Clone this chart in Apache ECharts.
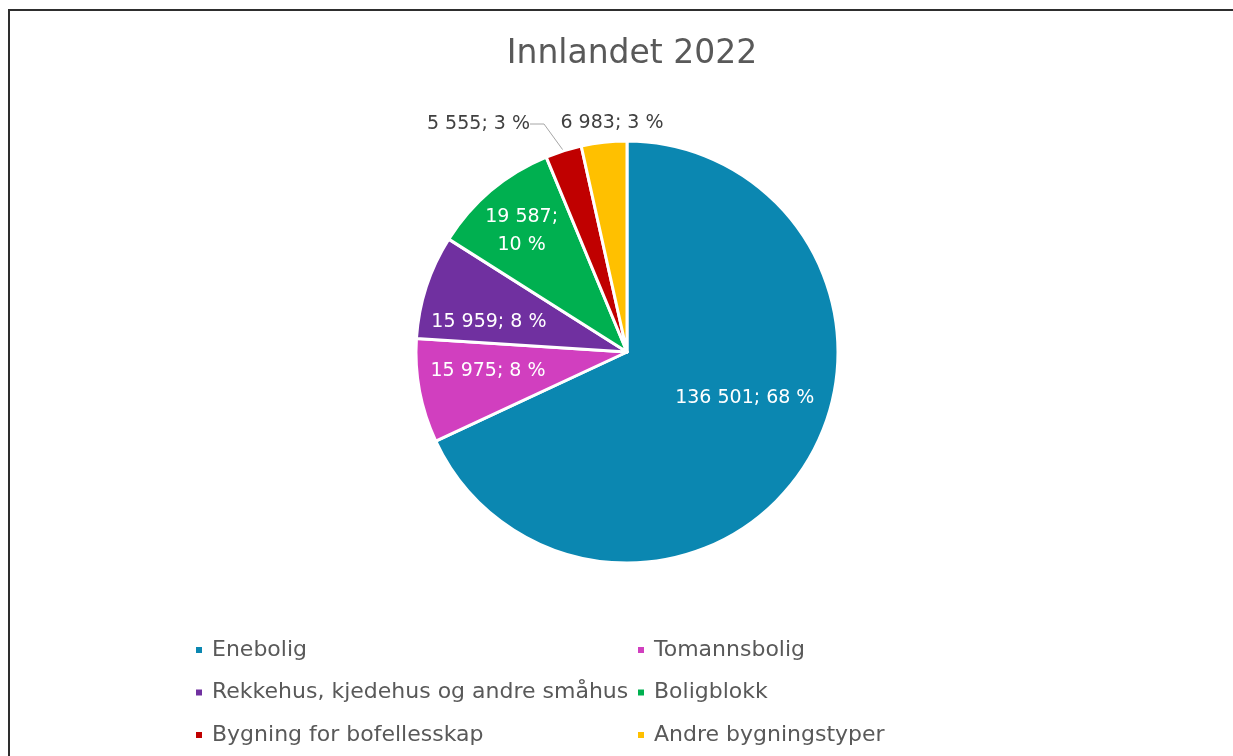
<!DOCTYPE html>
<html>
<head>
<meta charset="utf-8">
<script src="https://cdn.jsdelivr.net/npm/echarts@6/dist/echarts.min.js"></script>
<style>
  html, body { margin: 0; padding: 0; background: #fff; overflow: hidden; }
  #main { width: 1233px; height: 756px; }
  #frame {
    position: absolute; left: 8px; top: 9px; right: -10px; bottom: -10px;
    border-left: 2px solid #2e2e2e; border-top: 2px solid #2e2e2e;
    pointer-events: none;
  }
</style>
</head>
<body>
<div id="main"></div>
<div id="frame"></div>
<script>
var titleText = 'Innlandet 2022';
var categories = ['Enebolig', 'Tomannsbolig', 'Rekkehus, kjedehus og andre småhus', 'Boligblokk', 'Bygning for bofellesskap', 'Andre bygningstyper'];
var values = [136501, 15975, 15959, 19587, 5555, 6983];
var colors = ['#0b87b1', '#d13fbf', '#7030a0', '#00b050', '#c00000', '#ffc000'];

var FONT = 'DejaVu Sans';
var CX = 627, CY = 352, R = 211;

// where the inside labels sit: share of radius and turn (deg) from slice middle
var labelRadius = [0.60, 0.665, 0.67, 0.76];
var labelTurn = [-11, 2.8, -5.7, -1];

function fmtNum(n) {
  return String(n).replace(/\B(?=(\d{3})+(?!\d))/g, ' ');
}

var total = values.reduce(function (a, b) { return a + b; }, 0);

// middle angle of every slice, clockwise from 12 o'clock
var midAngles = [];
var acc = 0;
values.forEach(function (v) {
  midAngles.push((acc + v / 2) / total * 360);
  acc += v;
});

var pieData = categories.map(function (name, i) {
  var item = { name: name, value: values[i] };
  if (values[i] / total < 0.05) {
    item.label = { position: 'outside', color: '#404040' };
  }
  return item;
});
pieData[5].labelLine = { show: false };

var chart = echarts.init(document.getElementById('main'));

var legendText = { fontFamily: FONT, fontSize: 22, color: '#595959', lineHeight: 26, padding: [0, 0, 0, 4] };

var option = {
  backgroundColor: '#fff',
  color: colors,
  title: {
    text: titleText,
    left: CX,
    textAlign: 'center',
    top: 33,
    textStyle: { fontFamily: FONT, fontSize: 33, fontWeight: 'normal', color: '#595959' }
  },
  legend: [{
    data: [categories[0], categories[2], categories[4]],
    orient: 'vertical',
    left: 189,
    top: 632,
    itemWidth: 8,
    itemHeight: 8,
    itemGap: 16.5,
    icon: 'rect',
    textStyle: legendText
  }, {
    data: [categories[1], categories[3], categories[5]],
    orient: 'vertical',
    left: 631,
    top: 632,
    itemWidth: 8,
    itemHeight: 8,
    itemGap: 16.5,
    icon: 'rect',
    textStyle: legendText
  }],
  series: [{
    type: 'pie',
    center: [CX, CY],
    radius: [0, R],
    startAngle: 90,
    clockwise: true,
    avoidLabelOverlap: false,
    itemStyle: { borderColor: '#fff', borderWidth: 3 },
    label: {
      show: true,
      position: 'inside',
      color: '#fff',
      fontFamily: FONT,
      fontSize: 19,
      lineHeight: 28,
      formatter: function (p) {
        var pct = Math.round(p.value / total * 100);
        if (p.dataIndex === 3) {
          return fmtNum(p.value) + ';\n' + pct + ' %';
        }
        return fmtNum(p.value) + '; ' + pct + ' %';
      }
    },
    labelLine: { show: true, length: 8, length2: 14, lineStyle: { color: '#a6a6a6', width: 1 } },
    labelLayout: function (p) {
      var i = p.dataIndex;
      if (i < 4) {
        var a = (midAngles[i] + labelTurn[i]) * Math.PI / 180;
        var d = R * labelRadius[i];
        return { x: CX + Math.sin(a) * d, y: CY - Math.cos(a) * d, align: 'center', verticalAlign: 'middle' };
      }
      if (i === 4) {
        return { x: 530, y: 124, align: 'right', verticalAlign: 'middle' };
      }
      if (i === 5) {
        return { x: 612, y: 123, align: 'center', verticalAlign: 'middle' };
      }
    },
    emphasis: { disabled: true },
    data: pieData
  }]
};

chart.setOption(option);
</script>
</body>
</html>
